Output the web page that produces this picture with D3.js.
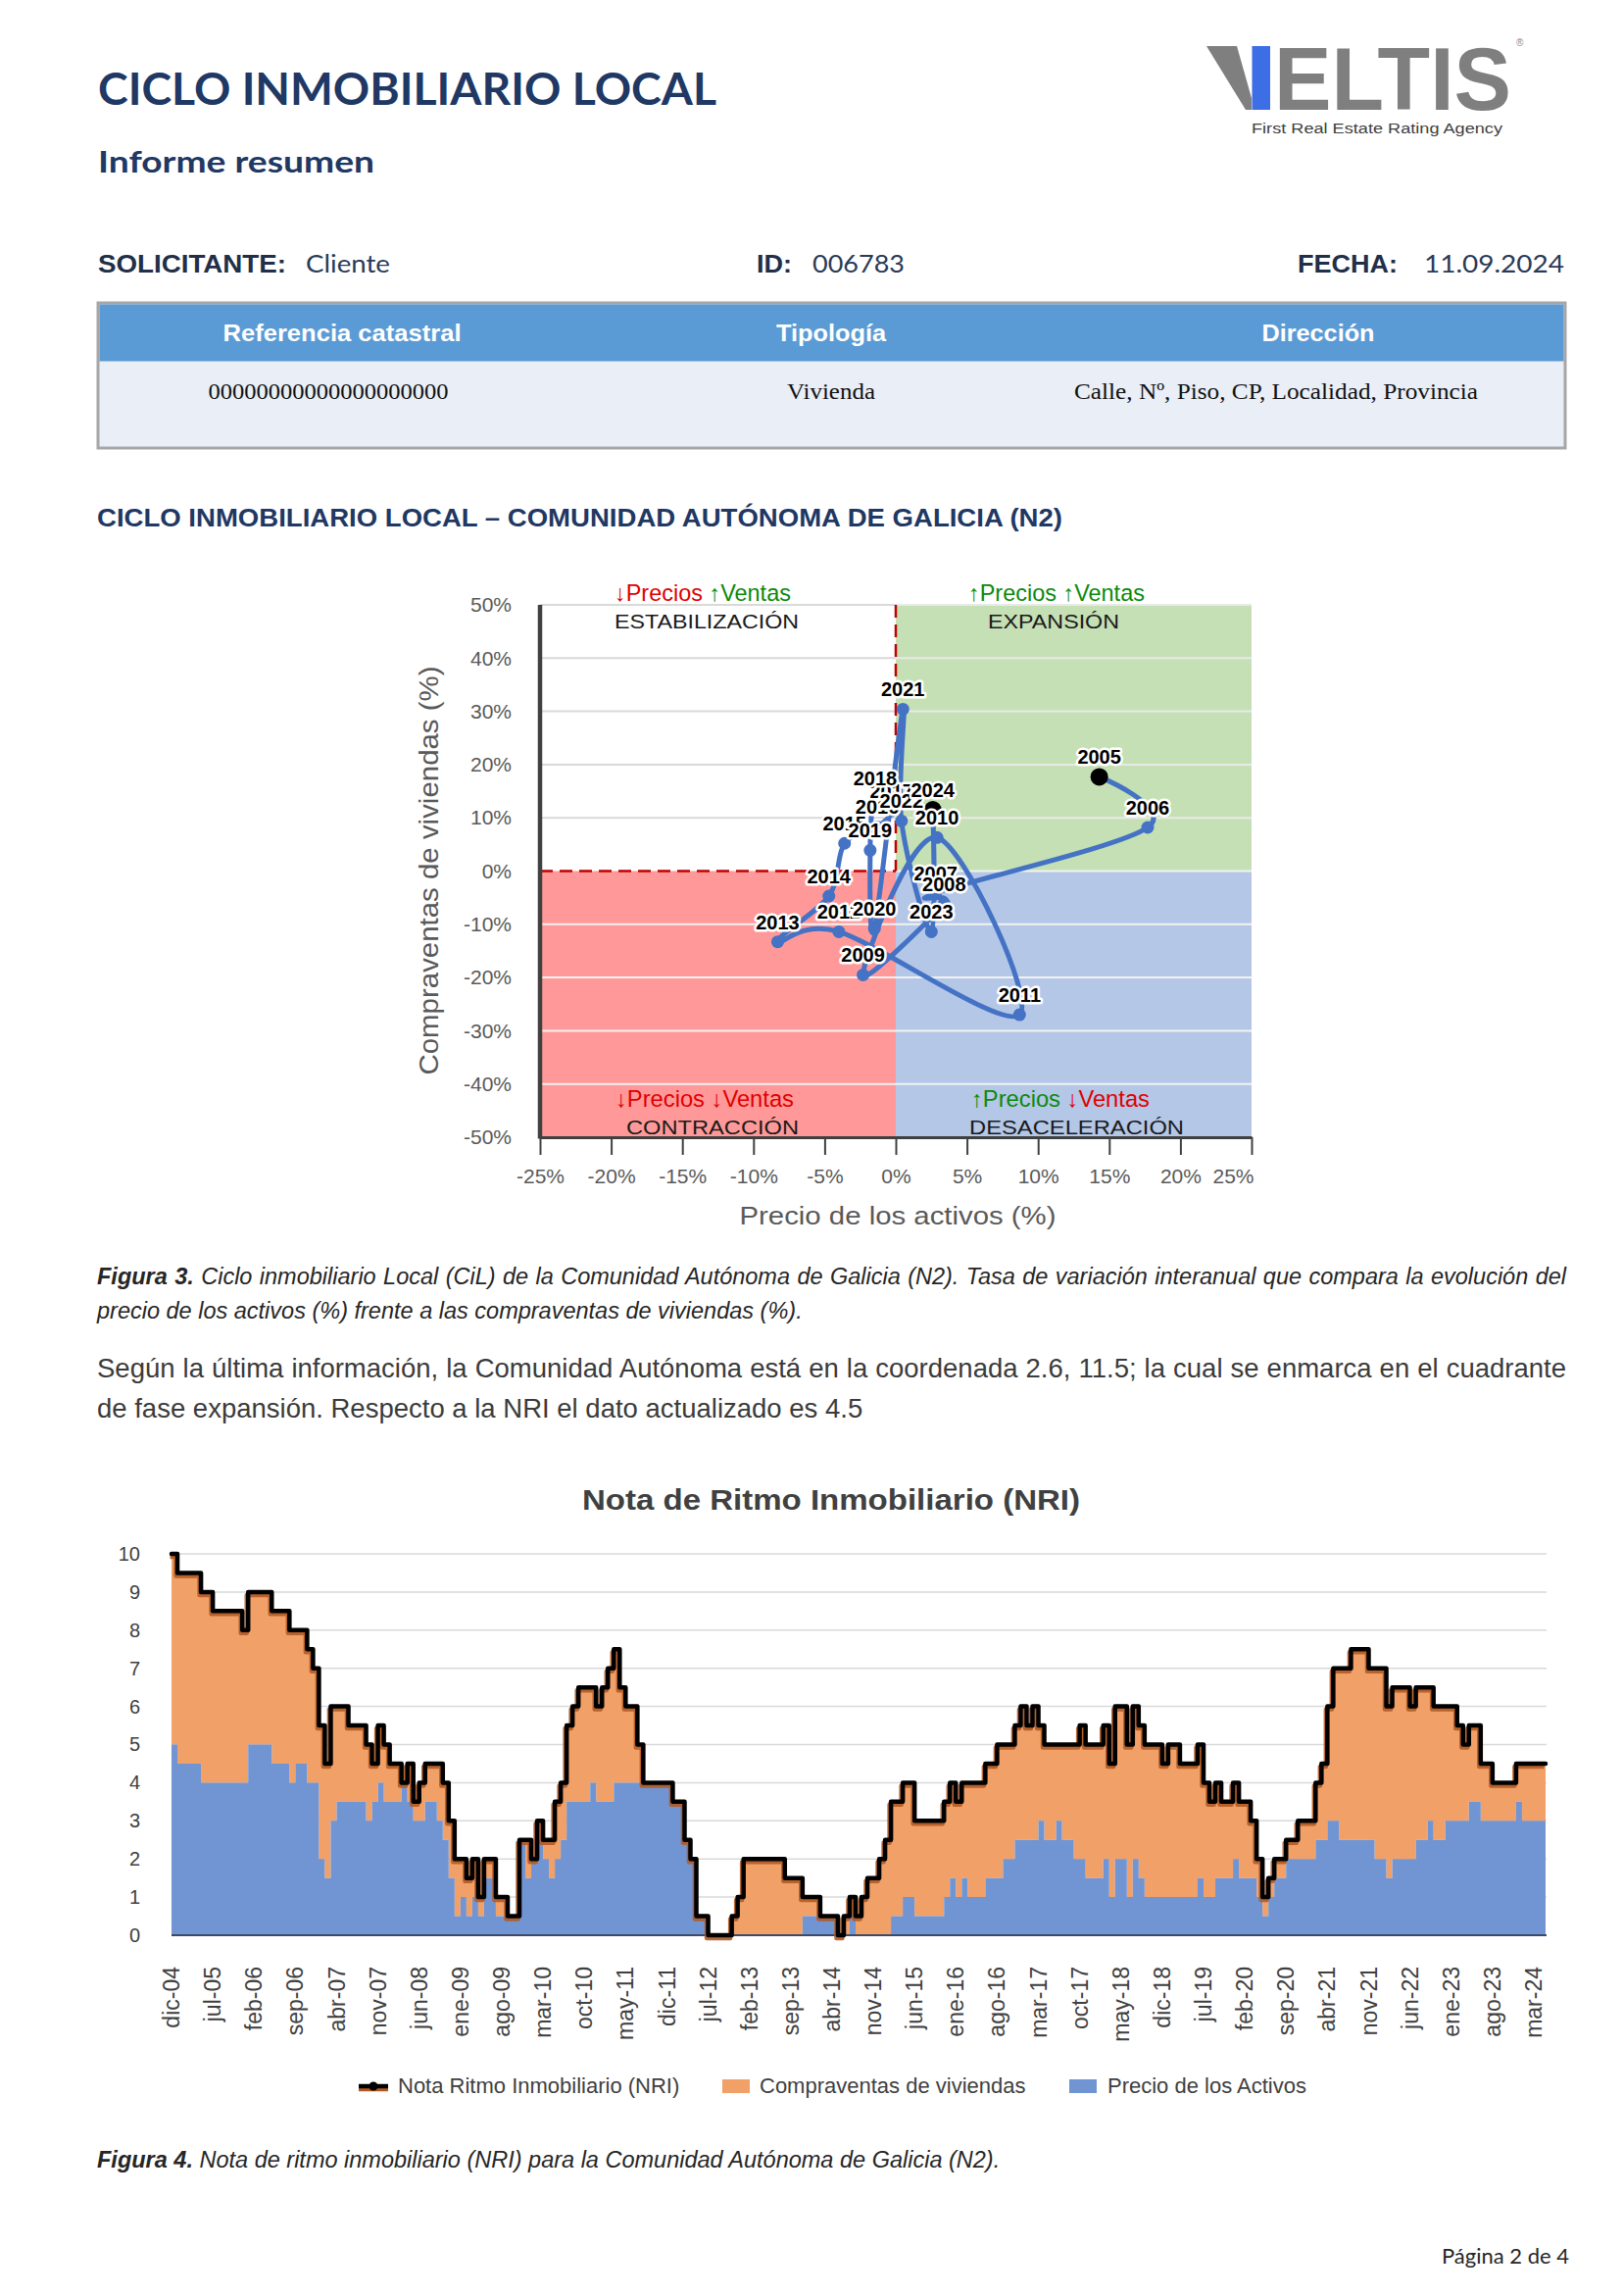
<!DOCTYPE html>
<html><head><meta charset="utf-8">
<script src="https://cdn.jsdelivr.net/npm/d3@7"></script>
<style>html,body{margin:0;padding:0;background:#fff}svg{display:block}</style>
</head><body>
<svg id="page" width="1656" height="2342"></svg>
<script>
// ---------------- DATA ----------------
// Ciclo inmobiliario (scatter): year, precio de los activos (%), compraventas (%)
const cicloYears  = [2005, 2006, 2007, 2008, 2009, 2010, 2011, 2012, 2013, 2014, 2015, 2016, 2017, 2018, 2019, 2020, 2021, 2022, 2023, 2024];
const cicloPrecio = [14.3, 17.7, 2.8, 3.4, -2.3, 2.9, 8.7, -4.0, -8.3, -4.7, -3.6, -1.3, -0.3, -1.45, -1.8, -1.5, 0.5, 0.4, 2.5, 2.6];
const cicloVentas = [17.7, 8.2, -4.1, -6.1, -19.5, 6.3, -27.0, -11.4, -13.3, -4.7, 5.2, 8.3, 11.3, 13.8, 3.9, -10.8, 30.4, 9.4, -11.4, 11.5];
const cicloXTicks = [-25, -20, -15, -10, -5, 0, 5, 10, 15, 20, 25];
const cicloYTicks = [-50, -40, -30, -20, -10, 0, 10, 20, 30, 40, 50];

// NRI monthly (dic-04 ... may-24), one row per 12 months
const nriTotal = [
  10, 9.5, 9.5, 9.5, 9.5, 9, 9, 8.5, 8.5, 8.5, 8.5, 8.5,
  8, 9, 9, 9, 9, 8.5, 8.5, 8.5, 8, 8, 8, 7.5,
  7, 5.5, 4.5, 6, 6, 6, 5.5, 5.5, 5.5, 5, 4.5, 5.5,
  5, 4.5, 4.5, 4, 4.5, 3.5, 4, 4.5, 4.5, 4.5, 4, 3,
  2, 2, 1.5, 2, 1, 2, 2, 1, 1, 0.5, 0.5, 2.5,
  2.5, 2, 3, 2.5, 2.5, 3.5, 4, 5.5, 6, 6.5, 6.5, 6.5,
  6, 6.5, 7, 7.5, 6.5, 6, 6, 5, 4, 4, 4, 4,
  4, 3.5, 3.5, 2.5, 2, 0.5, 0.5, 0, 0, 0, 0, 0.5,
  1, 2, 2, 2, 2, 2, 2, 2, 1.5, 1.5, 1.5, 1,
  1, 1, 0.5, 0.5, 0.5, 0, 0.5, 1, 0.5, 1, 1.5, 1.5,
  2, 2.5, 3.5, 3.5, 4, 4, 3, 3, 3, 3, 3, 3.5,
  4, 3.5, 4, 4, 4, 4, 4.5, 4.5, 5, 5, 5, 5.5,
  6, 5.5, 6, 5.5, 5, 5, 5, 5, 5, 5, 5.5, 5,
  5, 5, 5.5, 4.5, 6, 6, 5, 6, 5.5, 5, 5, 5,
  4.5, 5, 5, 4.5, 4.5, 4.5, 5, 4, 3.5, 4, 3.5, 3.5,
  4, 3.5, 3.5, 3, 2, 1, 1.5, 2, 2, 2.5, 2.5, 3,
  3, 3, 4, 4.5, 6, 7, 7, 7, 7.5, 7.5, 7.5, 7,
  7, 7, 6, 6.5, 6.5, 6.5, 6, 6.5, 6.5, 6.5, 6, 6,
  6, 6, 5.5, 5, 5.5, 5.5, 4.5, 4.5, 4, 4, 4, 4,
  4.5, 4.5, 4.5, 4.5, 4.5, 4.5
];
const nriPrecio = [
  5, 4.5, 4.5, 4.5, 4.5, 4, 4, 4, 4, 4, 4, 4,
  4, 5, 5, 5, 5, 4.5, 4.5, 4.5, 4, 4.5, 4.5, 4,
  4, 2, 1.5, 3, 3.5, 3.5, 3.5, 3.5, 3.5, 3, 3.5, 4,
  3.5, 3.5, 3.5, 4, 3.5, 3, 3, 3.5, 3.5, 3, 2.5, 1.5,
  0.5, 1, 0.5, 1, 0.5, 1.5, 1.5, 0.5, 0.5, 0.5, 0.5, 2.5,
  1.5, 2, 2.5, 2, 1.5, 2, 2.5, 3.5, 3.5, 3.5, 3.5, 4,
  3.5, 3.5, 3.5, 4, 4, 4, 4, 4, 4, 4, 4, 4,
  4, 3.5, 3.5, 2.5, 2, 0.5, 0.5, 0, 0, 0, 0, 0,
  0, 0, 0, 0, 0, 0, 0, 0, 0, 0, 0, 0.5,
  0.5, 0.5, 0.5, 0.5, 0.5, 0, 0, 0.5, 0, 0, 0, 0,
  0, 0, 0.5, 0.5, 1, 1, 0.5, 0.5, 0.5, 0.5, 0.5, 1,
  1.5, 1, 1.5, 1, 1, 1, 1.5, 1.5, 1.5, 2, 2, 2.5,
  2.5, 2.5, 2.5, 3, 2.5, 2.5, 3, 2.5, 2.5, 2, 2, 1.5,
  1.5, 1.5, 2, 1, 2, 2, 1, 2, 1.5, 1, 1, 1,
  1, 1, 1, 1, 1, 1, 1.5, 1, 1, 1.5, 1.5, 1.5,
  2, 1.5, 1.5, 1.5, 1, 0.5, 1, 1.5, 1.5, 2, 2, 2,
  2, 2, 2.5, 2.5, 3, 3, 2.5, 2.5, 2.5, 2.5, 2.5, 2.5,
  2, 2, 1.5, 2, 2, 2, 2, 2.5, 2.5, 3, 2.5, 2.5,
  3, 3, 3, 3, 3.5, 3.5, 3, 3, 3, 3, 3, 3,
  3.5, 3, 3, 3, 3, 3
];
const nriTickLabels = ["dic-04","jul-05","feb-06","sep-06","abr-07","nov-07","jun-08","ene-09","ago-09","mar-10","oct-10","may-11","dic-11","jul-12","feb-13","sep-13","abr-14","nov-14","jun-15","ene-16","ago-16","mar-17","oct-17","may-18","dic-18","jul-19","feb-20","sep-20","abr-21","nov-21","jun-22","ene-23","ago-23","mar-24"];
const nriTickStep = 7; // months between labels
const nriYTicks = [0,1,2,3,4,5,6,7,8,9,10];
const nriSeries = ["Nota Ritmo Inmobiliario (NRI)", "Compraventas de viviendas", "Precio de los Activos"];

if (nriTotal.length !== nriPrecio.length) throw new Error("length mismatch " + nriTotal.length + " " + nriPrecio.length);

// ---------------- HELPERS ----------------
const SANS = "'Liberation Sans', Arial, sans-serif";
const SERIF = "'Liberation Serif', 'Times New Roman', serif";
const CAL = "Lato, 'Open Sans', sans-serif";
const svg = d3.select("#page");
svg.append("rect").attr("width",1656).attr("height",2342).attr("fill","#fff");

function T(p, x, y, s, o = {}) {
  const t = p.append("text").attr("x", x).attr("y", y).text(s)
    .attr("font-family", o.ff || SANS).attr("font-size", o.fs || 20)
    .attr("fill", o.fill || "#000");
  if (o.fw) t.attr("font-weight", o.fw);
  if (o.fst) t.attr("font-style", o.fst);
  if (o.anchor) t.attr("text-anchor", o.anchor);
  if (o.len) t.attr("textLength", o.len).attr("lengthAdjust", "spacingAndGlyphs");
  return t;
}
function fitSize(t, target) {
  const w = t.node().getComputedTextLength();
  const fs = parseFloat(t.attr("font-size"));
  t.attr("font-size", fs * target / w);
}
function justify(t, target) {
  const w = t.node().getComputedTextLength();
  const n = (t.text().match(/ /g) || []).length;
  if (n) t.attr("word-spacing", (target - w) / n);
}

// ---------------- HEADER ----------------
T(svg, 100, 107, "CICLO INMOBILIARIO LOCAL", {ff: CAL, fs: 45, fw: 700, fill: "#1F3864", len: 631});
T(svg, 100, 176, "Informe resumen", {ff: CAL, fs: 30, fw: 700, fill: "#1F3864", len: 282});

// logo
const logo = svg.append("g");
logo.append("polygon").attr("points", "1231,47 1262,47 1277,100 1277,112 1271,112").attr("fill", "#7F7F7F");
logo.append("rect").attr("x", 1277.5).attr("y", 47).attr("width", 18.5).attr("height", 65).attr("fill", "#3D6EE6");
T(logo, 1300, 112, "ELTIS", {fs: 91, fw: 700, fill: "#7F7F7F", len: 242});
T(logo, 1547, 47, "®", {fs: 10, fill: "#8a8a8a"});
T(logo, 1277, 136, "First Real Estate Rating Agency", {fs: 15.5, fill: "#404040", len: 256});

// info row
const NAVY = "#222F48", NAVY2 = "#2A3A57";
T(svg, 100, 278, "SOLICITANTE:", {fs: 25, fw: 700, fill: NAVY, len: 192});
T(svg, 312, 278, "Cliente", {ff: CAL, fs: 25, fill: NAVY2, len: 86});
T(svg, 772, 278, "ID:", {fs: 25, fw: 700, fill: NAVY, len: 36});
T(svg, 829, 278, "006783", {ff: CAL, fs: 25, fill: NAVY2, len: 94});
T(svg, 1324, 278, "FECHA:", {fs: 25, fw: 700, fill: NAVY, len: 102});
T(svg, 1453, 278, "11.09.2024", {ff: CAL, fs: 25, fill: NAVY2, len: 143});

// table
svg.append("rect").attr("x", 100).attr("y", 309).attr("width", 1497).attr("height", 148)
  .attr("fill", "#E9EEF7").attr("stroke", "#A6A6A6").attr("stroke-width", 3);
svg.append("rect").attr("x", 101.5).attr("y", 310.5).attr("width", 1494).attr("height", 58).attr("fill", "#5B9BD5");
const tableHead = ["Referencia catastral", "Tipología", "Dirección"];
const tableBody = ["00000000000000000000", "Vivienda", "Calle, Nº, Piso, CP, Localidad, Provincia"];
const colCenters = [349, 848, 1345];
const bodyCenters = [335, 848, 1302];
const headLens = [243, 112, 115];
tableHead.forEach((s, i) => T(svg, colCenters[i], 348, s, {fs: 24, fw: 700, fill: "#fff", anchor: "middle", len: headLens[i]}));
const bodyLens = [245, 90, 412];
tableBody.forEach((s, i) => T(svg, bodyCenters[i], 407, s, {ff: SERIF, fs: 23, fill: "#111", anchor: "middle", len: bodyLens[i]}));

// section title
T(svg, 99, 537, "CICLO INMOBILIARIO LOCAL – COMUNIDAD AUTÓNOMA DE GALICIA (N2)", {fs: 25, fw: 700, fill: "#1F3864", len: 985});

// ---------------- SCATTER (CICLO) ----------------
const sc = svg.append("g");
const sx = d3.scaleLinear([-25, 25], [551, 1277]);
const sy = d3.scaleLinear([-50, 50], [1160, 617]);
sc.append("rect").attr("x", sx(0)).attr("y", sy(50)).attr("width", sx(25) - sx(0)).attr("height", sy(0) - sy(50)).attr("fill", "#C5E0B4");
sc.append("rect").attr("x", sx(-25)).attr("y", sy(0)).attr("width", sx(0) - sx(-25)).attr("height", sy(-50) - sy(0)).attr("fill", "#FF9999");
sc.append("rect").attr("x", sx(0)).attr("y", sy(0)).attr("width", sx(25) - sx(0)).attr("height", sy(-50) - sy(0)).attr("fill", "#B4C7E7");
cicloYTicks.forEach(v => {
  if (v === -50 || v === 0) return;
  if (v > 0) {
    sc.append("line").attr("x1", sx(-25)).attr("x2", sx(0)).attr("y1", sy(v)).attr("y2", sy(v)).attr("stroke", "#D9D9D9").attr("stroke-width", 2);
    sc.append("line").attr("x1", sx(0)).attr("x2", sx(25)).attr("y1", sy(v)).attr("y2", sy(v)).attr("stroke", "#E9E9E9").attr("stroke-width", 2);
  } else {
    sc.append("line").attr("x1", sx(-25)).attr("x2", sx(25)).attr("y1", sy(v)).attr("y2", sy(v)).attr("stroke", "#F2F2F2").attr("stroke-width", 2);
  }
});
sc.append("line").attr("x1", sx(0)).attr("x2", sx(25)).attr("y1", sy(0)).attr("y2", sy(0)).attr("stroke", "#F2F2F2").attr("stroke-width", 2);
// dashed red
sc.append("line").attr("x1", sx(0)).attr("x2", sx(0)).attr("y1", sy(50)).attr("y2", sy(0)).attr("stroke", "#C00000").attr("stroke-width", 2.5).attr("stroke-dasharray", "13,7");
sc.append("line").attr("x1", sx(-25)).attr("x2", sx(0)).attr("y1", sy(0)).attr("y2", sy(0)).attr("stroke", "#C00000").attr("stroke-width", 2.5).attr("stroke-dasharray", "13,7");

// axes
const yAx = sc.append("g").attr("transform", `translate(${sx(-25)},0)`)
  .call(d3.axisLeft(sy).tickValues(cicloYTicks).tickSize(0).tickPadding(29).tickFormat(d => d + "%"));
yAx.select(".domain").remove();
yAx.selectAll("text").attr("font-family", SANS).attr("font-size", 21).attr("fill", "#595959");
const xAx = sc.append("g").attr("transform", `translate(0,${sy(-50)})`)
  .call(d3.axisBottom(sx).tickValues(cicloXTicks).tickSize(18).tickSizeOuter(0).tickPadding(14).tickFormat(d => d + "%"));
xAx.select(".domain").attr("stroke", "#404040").attr("stroke-width", 3);
xAx.selectAll(".tick line").attr("stroke", "#404040").attr("stroke-width", 2);
xAx.selectAll("text").attr("font-family", SANS).attr("font-size", 21).attr("fill", "#595959");
xAx.selectAll(".tick text").filter(d => d === 25).attr("text-anchor", "end").attr("dx", 2);
sc.append("line").attr("x1", sx(-25)).attr("x2", sx(-25)).attr("y1", sy(50)).attr("y2", sy(-50) + 1.5).attr("stroke", "#404040").attr("stroke-width", 4.5);

// axis titles
T(sc, 0, 0, "Compraventas de viviendas (%)", {fs: 27, fill: "#595959", anchor: "middle", len: 417})
  .attr("transform", "translate(447,888) rotate(-90)");
T(sc, 916, 1249, "Precio de los activos (%)", {fs: 26, fill: "#595959", anchor: "middle", len: 323});

// quadrant labels
const RED = "#E00000", GREEN = "#0B8A0B";
function quadLabel(x1, y1, w1, a1, a2, c1, c2, x2, y2, w2, name) {
  const t = sc.append("text").attr("x", x1).attr("y", y1).attr("font-family", SANS).attr("font-size", 21);
  t.append("tspan").attr("fill", c1).text(a1 + "Precios ");
  t.append("tspan").attr("fill", c2).text(a2 + "Ventas");
  fitSize(t, w1);
  T(sc, x2, y2, name, {fs: 21, fill: "#1a1a1a", len: w2});
}
quadLabel(627, 613, 180, "↓", "↑", RED, GREEN, 627, 641, 188, "ESTABILIZACIÓN");
quadLabel(988, 613, 180, "↑", "↑", GREEN, GREEN, 1008, 641, 134, "EXPANSIÓN");
quadLabel(628, 1129, 182, "↓", "↓", RED, RED, 639, 1157, 176, "CONTRACCIÓN");
quadLabel(991, 1129, 182, "↑", "↓", GREEN, RED, 989, 1157, 219, "DESACELERACIÓN");

// path
const cicloIdx = d3.range(cicloYears.length);
const cicloLine = d3.line().x(i => sx(cicloPrecio[i])).y(i => sy(cicloVentas[i])).curve(d3.curveCatmullRom.alpha(0));
sc.append("path").attr("d", cicloLine(cicloIdx)).attr("fill", "none").attr("stroke", "#4472C4").attr("stroke-width", 5).attr("stroke-linecap", "round");
sc.selectAll("circle.pt").data(cicloIdx).join("circle")
  .attr("cx", i => sx(cicloPrecio[i])).attr("cy", i => sy(cicloVentas[i]))
  .attr("r", i => (i === 0 || i === cicloIdx.length - 1) ? 9 : 6.5)
  .attr("fill", i => (i === 0 || i === cicloIdx.length - 1) ? "#000" : "#4472C4");
cicloIdx.forEach(i => {
  T(sc, sx(cicloPrecio[i]), sy(cicloVentas[i]) - 13, String(cicloYears[i]), {fs: 20, fw: 700, fill: "#000", anchor: "middle"})
    .attr("stroke", "#fff").attr("stroke-width", 5).attr("stroke-linejoin", "round").attr("paint-order", "stroke");
});

// caption fig 3
const cap1 = svg.append("text").attr("x", 99).attr("y", 1310).attr("font-family", SANS).attr("font-size", 23.5).attr("font-style", "italic").attr("fill", "#262626");
cap1.append("tspan").attr("font-weight", 700).text("Figura 3.");
cap1.append("tspan").text(" Ciclo inmobiliario Local (CiL) de la Comunidad Autónoma de Galicia (N2). Tasa de variación interanual que compara la evolución del");
justify(cap1, 1499);
T(svg, 99, 1345, "precio de los activos (%) frente a las compraventas de viviendas (%).", {fs: 23.5, fst: "italic", fill: "#262626"});

// paragraph
const par1 = T(svg, 99, 1405, "Según la última información, la Comunidad Autónoma está en la coordenada 2.6, 11.5; la cual se enmarca en el cuadrante", {fs: 27.5, fill: "#3b3b3b"});
justify(par1, 1499);
T(svg, 99, 1446, "de fase expansión. Respecto a la NRI el dato actualizado es 4.5", {fs: 27.5, fill: "#3b3b3b"});

// ---------------- NRI CHART ----------------
const nc = svg.append("g");
T(nc, 848, 1540, "Nota de Ritmo Inmobiliario (NRI)", {fs: 30, fw: 700, fill: "#404040", anchor: "middle", len: 508});
const nx = d3.scaleLinear([0, nriTotal.length - 1], [175, 1577]);
const ny = d3.scaleLinear([0, 10], [1974, 1585]);
nriYTicks.filter(v => v > 0).forEach(v => {
  nc.append("line").attr("x1", 175).attr("x2", 1578).attr("y1", ny(v)).attr("y2", ny(v)).attr("stroke", "#D9D9D9").attr("stroke-width", 1.5);
});
const nyAx = nc.append("g").attr("transform", "translate(175,0)")
  .call(d3.axisLeft(ny).tickValues(nriYTicks).tickSize(0).tickPadding(32).tickFormat(d3.format("d")));
nyAx.select(".domain").remove();
nyAx.selectAll("text").attr("font-family", SANS).attr("font-size", 20).attr("fill", "#404040");

const nIdx = d3.range(nriTotal.length);
const areaBlue = d3.area().x(i => nx(i)).y0(ny(0)).y1(i => ny(nriPrecio[i])).curve(d3.curveStepAfter);
const areaOrange = d3.area().x(i => nx(i)).y0(i => ny(nriPrecio[i])).y1(i => ny(nriTotal[i])).curve(d3.curveStepAfter);
const nriLine = d3.line().x(i => nx(i)).y(i => ny(nriTotal[i])).curve(d3.curveStepAfter);
nc.append("path").attr("d", areaOrange(nIdx)).attr("fill", "#F1A068");
nc.append("path").attr("d", areaBlue(nIdx)).attr("fill", "#7194D2");
nc.append("line").attr("x1", 175).attr("x2", 1578).attr("y1", ny(0)).attr("y2", ny(0)).attr("stroke", "#3b4a6b").attr("stroke-width", 2);
nc.append("path").attr("d", nriLine(nIdx)).attr("fill", "none").attr("stroke", "#B35A25").attr("stroke-width", 4.5)
  .attr("stroke-linejoin", "round").attr("transform", "translate(-1.5,3)").attr("opacity", 0.9);
nc.append("path").attr("d", nriLine(nIdx)).attr("fill", "none").attr("stroke", "#000").attr("stroke-width", 4.5)
  .attr("stroke-linejoin", "round").attr("stroke-linecap", "round");

// x labels (rotated)
nriTickLabels.forEach((s, j) => {
  T(nc, 0, 0, s, {fs: 23, fill: "#404040", anchor: "end"}).attr("dy", "0.35em")
    .attr("transform", `translate(${nx(j * nriTickStep)},2006) rotate(-90)`);
});

// legend
const lg = nc.append("g");
lg.append("line").attr("x1", 366).attr("x2", 396).attr("y1", 2131).attr("y2", 2131).attr("stroke", "#B35A25").attr("stroke-width", 4.5);
lg.append("line").attr("x1", 366).attr("x2", 396).attr("y1", 2128).attr("y2", 2128).attr("stroke", "#000").attr("stroke-width", 4.5);
lg.append("circle").attr("cx", 381).attr("cy", 2128).attr("r", 4.5).attr("fill", "#000");
T(lg, 406, 2135, nriSeries[0], {fs: 22, fill: "#404040"});
lg.append("rect").attr("x", 737).attr("y", 2121).attr("width", 28).attr("height", 14).attr("fill", "#F1A068");
T(lg, 775, 2135, nriSeries[1], {fs: 22, fill: "#404040"});
lg.append("rect").attr("x", 1091).attr("y", 2121).attr("width", 28).attr("height", 14).attr("fill", "#7194D2");
T(lg, 1130, 2135, nriSeries[2], {fs: 22, fill: "#404040"});

// caption fig 4
const cap4 = svg.append("text").attr("x", 99).attr("y", 2211).attr("font-family", SANS).attr("font-size", 23.5).attr("font-style", "italic").attr("fill", "#262626");
cap4.append("tspan").attr("font-weight", 700).text("Figura 4.");
cap4.append("tspan").text(" Nota de ritmo inmobiliario (NRI) para la Comunidad Autónoma de Galicia (N2).");

// footer
T(svg, 1601, 2309, "Página 2 de 4", {ff: CAL, fs: 22, fill: "#262626", anchor: "end"});
</script>
</body></html>
